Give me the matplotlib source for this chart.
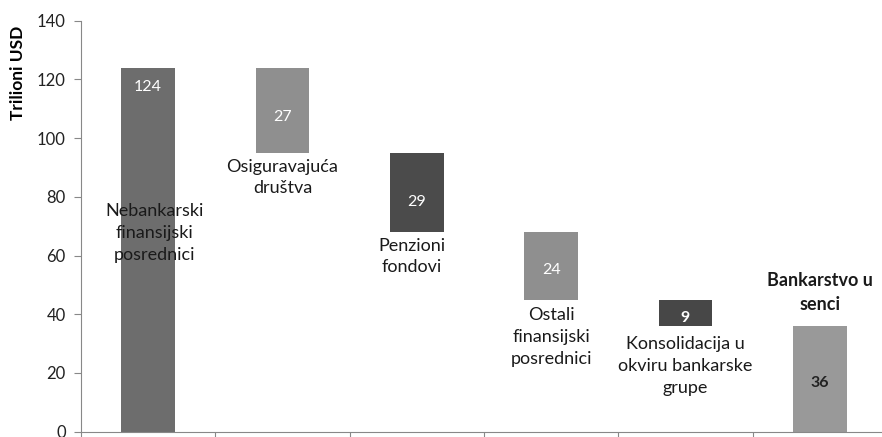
import numpy as np
import matplotlib.pyplot as plt

plt.rcParams['font.family'] = ['Lato', 'DejaVu Sans']

categories = ['Nebankarski\nfinansijski\nposrednici', 'Osiguravajuća\ndruštva', 'Penzioni\nfondovi',
              'Ostali\nfinansijski\nposrednici', 'Konsolidacija u\nokviru bankarske\ngrupe', 'Bankarstvo u\nsenci']
values = [124, 27, 29, 24, 9, 36]
bar_low = [0, 95, 68, 45, 36, 0]
bar_high = [124, 124, 95, 68, 45, 36]
# vertical centre of the category text, in data units
cat_text_y = [67.7, 86.6, 59.7, 32.3, 22.4, 47.4]
val_text_y = [117.5, 107.2, 78.3, 55, 38.7, 16.5]

colors = ['#6d6d6d', '#8f8f8f', '#4b4b4b', '#8f8f8f', '#474747', '#999999']
val_colors = ['white', 'white', 'white', 'white', 'white', '#222222']

fig = plt.figure(figsize=(8.82, 4.37), dpi=100)
ax = fig.add_axes([81 / 882, (437 - 431.7) / 437, (887 - 81) / 882, 411 / 437])

x = np.arange(len(values))
heights = np.array(bar_high) - np.array(bar_low)
ax.bar(x, heights, bottom=bar_low, width=0.4, color=colors, zorder=2)

for i in range(len(values)):
    ax.text(x[i], val_text_y[i], str(values[i]), ha='center', va='center',
            fontsize=11.5, color=val_colors[i], fontweight='bold' if i >= 4 else 'normal', zorder=3)
    ax.text(x[i] + (0.05 if i == 0 else 0.0) - (0.04 if i in (2,) else 0), cat_text_y[i], categories[i],
            ha='center', va='center', fontsize=13, color='#1a1a1a',
            fontweight='bold' if i == 5 else 'normal', linespacing=1.45, zorder=3)

ax.set_xlim(-0.5, len(values) - 0.5)
ax.set_ylim(0, 140)
ax.set_yticks(np.arange(0, 141, 20))
ax.set_xticks(np.arange(-0.5, len(values), 1.0))
ax.set_xticklabels([])
ax.tick_params(axis='y', labelsize=12, labelcolor='#222222', length=5, color='#888888', pad=6)
ax.tick_params(axis='x', length=6, color='#888888', direction='out')
ax.set_ylabel('Trilioni USD', fontsize=12.5, fontweight='bold')
ax.yaxis.set_label_coords(-0.068, 0.873)

for s in ['top', 'right']:
    ax.spines[s].set_visible(False)
for s in ['left', 'bottom']:
    ax.spines[s].set_color('#888888')

fig.savefig('out.png', dpi=100)
